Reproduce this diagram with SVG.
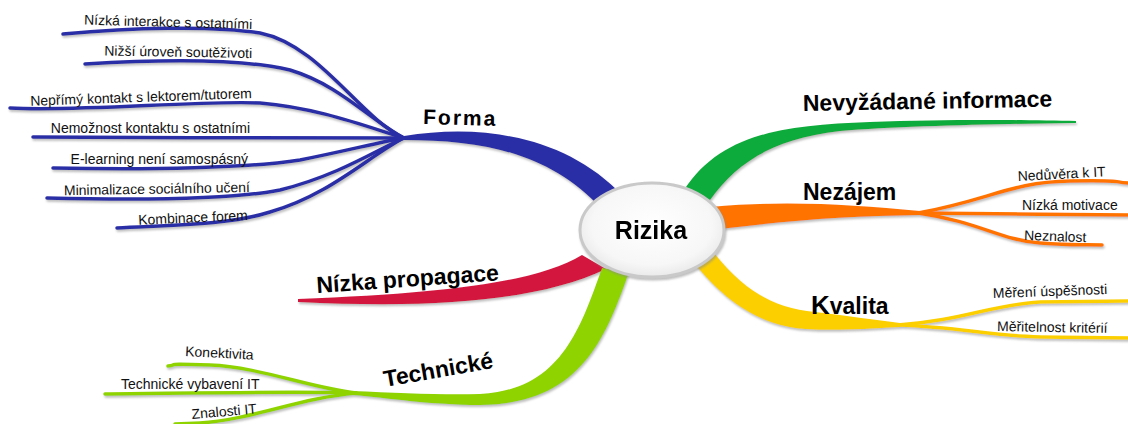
<svg xmlns="http://www.w3.org/2000/svg" width="1128" height="424" viewBox="0 0 1128 424">
<defs>
<style>
.sub{font-family:"Liberation Sans",Arial,sans-serif;font-size:14px;fill:#111}
.main{font-family:"Liberation Sans",Arial,sans-serif;font-size:23px;font-weight:bold;fill:#000}
.blue{fill:none;stroke:#2b2ea6;stroke-width:3.5;stroke-linecap:round}
.orange{fill:none;stroke:#ff7300;stroke-width:3.5;stroke-linecap:round}
.yellow{fill:none;stroke:#fcd000;stroke-width:3.5;stroke-linecap:round}
.lime{fill:none;stroke:#8fd400;stroke-width:3.5;stroke-linecap:round}
</style>
<filter id="sh" x="-10%" y="-20%" width="120%" height="150%">
<feDropShadow dx="1" dy="2" stdDeviation="1" flood-color="#888" flood-opacity="0.55"/>
</filter>
<radialGradient id="eg" cx="50%" cy="45%" r="60%">
<stop offset="0" stop-color="#ffffff"/>
<stop offset="0.7" stop-color="#f7f7f7"/>
<stop offset="1" stop-color="#e4e4e4"/>
</radialGradient>
</defs>
<rect width="1128" height="424" fill="#fff"/>
<g id="connectors" filter="url(#sh)">
<!-- Forma -->
<path fill="#2b2ea6" d="M404,136 C480,124 560,135 617,190 L596,203 C545,152 480,140 404,140 Z"/>
<path class="blue" d="M63,34 C130,28 210,25 260,33 C320,45 360,118 404,138"/>
<path class="blue" d="M85,64 C150,60 240,58 290,70 C340,85 370,120 404,138"/>
<path class="blue" d="M10,108 C80,112 200,100 260,103 C320,108 370,128 404,138"/>
<path class="blue" d="M33,137 C150,138 300,138 404,138"/>
<path class="blue" d="M53,168 C150,170 250,168 300,160 C350,150 380,142 404,138"/>
<path class="blue" d="M47,198 C130,200 230,200 280,190 C340,175 380,148 404,138"/>
<path class="blue" d="M117,228 C170,225 230,225 270,212 C330,195 370,155 404,138"/>
<!-- Nevyzadane informace -->
<path fill="#0bab3a" d="M684,190 C720,135 780,125 870,122 C950,119 1030,120 1076,121 L1076,123 C1000,124 900,126 840,131 C770,139 735,165 710,200 Z"/>
<!-- Nezajem -->
<path fill="#ff7300" d="M710,207 C790,200 850,205 920,211 L920,215 C850,216 790,220 712,230 Z"/>
<path class="orange" d="M918,213 C990,200 1010,182 1070,181 S1110,182 1128,183"/>
<path class="orange" d="M918,213 C990,214 1060,214 1128,215"/>
<path class="orange" d="M918,213 C980,222 1000,240 1040,243 S1080,244 1102,245"/>
<!-- Kvalita -->
<path fill="#fcd000" d="M714,253 C745,292 775,308 815,312 C850,316 875,320 900,323 L900,327 C865,329 835,331 805,329 C755,325 722,297 694,263 Z"/>
<path class="yellow" d="M898,325 C960,321 990,305 1040,302 L1128,301"/>
<path class="yellow" d="M898,325 C960,327 990,336 1040,337 L1128,338"/>
<!-- Nizka propagace -->
<path fill="#d3143e" d="M582,255 C540,280 460,293 298,299 L298,302 C440,309 540,300 606,269 Z"/>
<!-- Technicke -->
<path fill="#8fd400" d="M629,272 C605,340 580,404 480,405 C430,405 390,398 352,395 L352,391 C400,393 440,395 480,394 C560,390 580,330 602,268 Z"/>
<path class="lime" d="M356,393 C310,388 260,367 210,365 S180,365 168,366"/>
<path class="lime" d="M356,393 C300,391 200,393 105,394"/>
<path class="lime" d="M356,393 C300,398 250,420 200,423 L175,424"/>
</g>
<g id="center" filter="url(#sh)">
<ellipse cx="652" cy="230" rx="72" ry="47" fill="url(#eg)" stroke="#c9c9c9" stroke-width="3"/>
<text x="651" y="239" text-anchor="middle" style="font-family:'Liberation Sans',Arial,sans-serif;font-size:25px;font-weight:bold">Rizika</text>
</g>
<g id="forma">
<text class="main" x="423" y="124" style="font-size:21px;letter-spacing:2px" transform="rotate(1.5 423 124)">Forma</text>
<text class="sub" x="252" y="29" text-anchor="end" transform="rotate(1.5 252 29)">Nízká interakce s ostatními</text>
<text class="sub" x="252" y="58" text-anchor="end" transform="rotate(1 252 58)">Nižší úroveň soutěživoti</text>
<text class="sub" x="252" y="98" text-anchor="end" transform="rotate(-2 252 98)">Nepřímý kontakt s lektorem/tutorem</text>
<text class="sub" x="250" y="133" text-anchor="end">Nemožnost kontaktu s ostatními</text>
<text class="sub" x="248" y="164" text-anchor="end">E-learning není samospásný</text>
<text class="sub" x="250" y="192" text-anchor="end" transform="rotate(-1 250 192)">Minimalizace sociálního učení</text>
<text class="sub" x="248" y="220" text-anchor="end" transform="rotate(-2.5 248 220)">Kombinace forem</text>
</g>
<g id="nevyzadane">
<text class="main" x="803" y="111" transform="rotate(-1 803 111)">Nevyžádané informace</text>
</g>
<g id="nezajem">
<text class="main" x="803" y="200">Nezájem</text>
<text class="sub" x="1018" y="181" transform="rotate(-3 1018 181)">Nedůvěra k IT</text>
<text class="sub" x="1022" y="210">Nízká motivace</text>
<text class="sub" x="1024" y="240" transform="rotate(2 1024 240)">Neznalost</text>
</g>
<g id="kvalita">
<text class="main" x="811" y="314"><tspan style="font-size:26px">K</tspan>valita</text>
<text class="sub" x="993" y="298" transform="rotate(-2 993 298)">Měření úspěšnosti</text>
<text class="sub" x="997" y="331" transform="rotate(1 997 331)">Měřitelnost kritérií</text>
</g>
<g id="propagace">
<text class="main" x="317" y="293" transform="rotate(-4 317 293)">Nízka propagace</text>
</g>
<g id="technicke">
<text class="main" x="385" y="387" transform="rotate(-10 385 387)">Technické</text>
<text class="sub" x="185" y="356" transform="rotate(3 185 356)">Konektivita</text>
<text class="sub" x="121" y="389">Technické vybavení IT</text>
<text class="sub" x="192" y="419" transform="rotate(-5 192 419)">Znalosti IT</text>
</g>
</svg>
